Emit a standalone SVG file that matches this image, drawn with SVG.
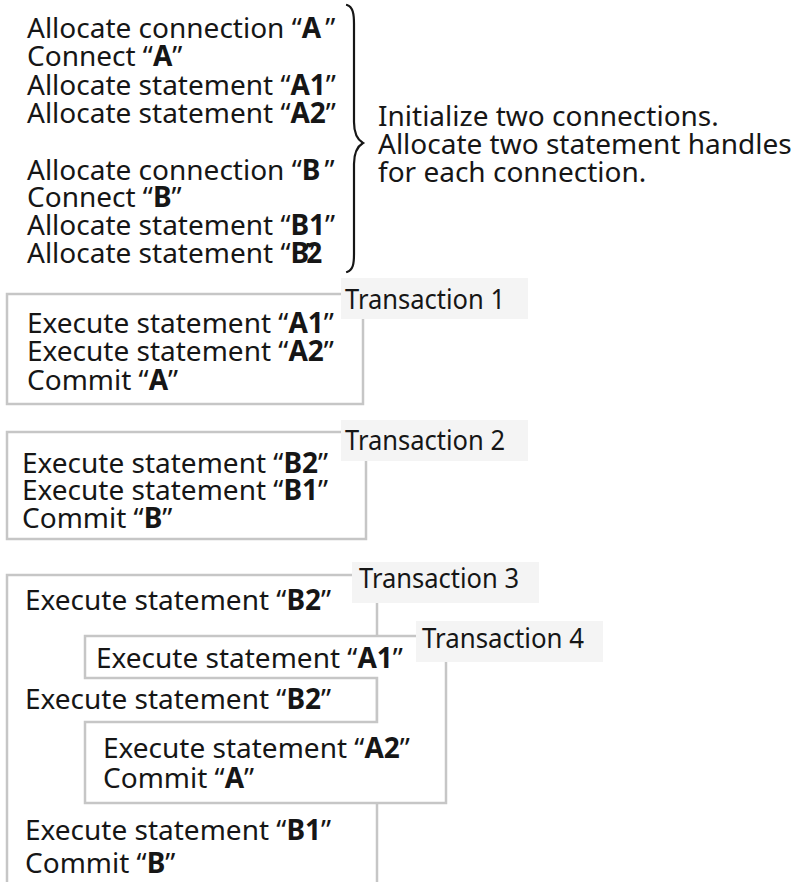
<svg xmlns="http://www.w3.org/2000/svg" width="795" height="882" viewBox="0 0 795 882">
<style>
.t{font-family:"Noto Sans","Liberation Sans",sans-serif;font-size:28px;fill:#161616}
.b{font-weight:bold}
.box{fill:#ffffff;stroke:#c6c6c6;stroke-width:2.5}
.lbg{fill:#f4f4f4}
.lbl{font-family:"Noto Sans","Liberation Sans",sans-serif;font-size:28px;fill:#161616}
.brace{fill:none;stroke:#161616;stroke-width:2.2;stroke-linecap:round}
</style>
<rect width="795" height="882" fill="#ffffff"/>
<g id="setup">
<text class="t" x="27" y="38">Allocate connection “<tspan class="b">A</tspan><tspan dx="4">”</tspan></text>
<text class="t" x="27" y="66">Connect “<tspan class="b">A</tspan>”</text>
<text class="t" x="27" y="95">Allocate statement “<tspan class="b">A1</tspan>”</text>
<text class="t" x="27" y="123">Allocate statement “<tspan class="b">A2</tspan>”</text>
<text class="t" x="27" y="180">Allocate connection “<tspan class="b">B</tspan><tspan dx="4">”</tspan></text>
<text class="t" x="27" y="207">Connect “<tspan class="b">B</tspan>”</text>
<text class="t" x="27" y="235">Allocate statement “<tspan class="b">B1</tspan>”</text>
<text class="t" x="27" y="263">Allocate statement “<tspan class="b">B</tspan><tspan dx="-4">”</tspan><tspan class="b" dx="-9">2</tspan></text>
</g>
<g id="note">
<text class="t" x="378" y="126">Initialize two connections.</text>
<text class="t" x="378" y="154">Allocate two statement handles</text>
<text class="t" x="378" y="182">for each connection.</text>
</g>
<g id="connectors">
<path class="brace" d="M347,5 C353,7 354,14 354,24 L354,122 C354,134 358,140 363,143 C358,146 354,152 354,164 L354,254 C354,264 353,270 347,272"/>
</g>
<g id="tx1">
<rect class="box" x="7" y="294" width="356" height="110"/>
<rect class="lbg" x="341" y="278" width="187" height="41"/>
<text class="lbl" x="345" y="309" textLength="160" lengthAdjust="spacingAndGlyphs">Transaction 1</text>
<text class="t" x="27" y="333">Execute statement “<tspan class="b">A1</tspan>”</text>
<text class="t" x="27" y="361">Execute statement “<tspan class="b">A2</tspan>”</text>
<text class="t" x="27" y="390">Commit “<tspan class="b">A</tspan>”</text>
</g>
<g id="tx2">
<rect class="box" x="7" y="432" width="359" height="107"/>
<rect class="lbg" x="341" y="420" width="187" height="41"/>
<text class="lbl" x="345" y="450" textLength="160" lengthAdjust="spacingAndGlyphs">Transaction 2</text>
<text class="t" x="22" y="473">Execute statement “<tspan class="b">B2</tspan>”</text>
<text class="t" x="22" y="500">Execute statement “<tspan class="b">B1</tspan>”</text>
<text class="t" x="22" y="528">Commit “<tspan class="b">B</tspan>”</text>
</g>
<g id="tx3">
<rect class="box" x="7" y="575" width="370" height="340"/>
</g>
<g id="tx4">
<path class="box" d="M85,636 L446,636 L446,803 L85,803 L85,722 L377,722 L377,678 L85,678 Z"/>
</g>
<g id="tx3-content">
<rect class="lbg" x="352" y="562" width="187" height="41"/>
<text class="lbl" x="359" y="588" textLength="160" lengthAdjust="spacingAndGlyphs">Transaction 3</text>
<text class="t" x="25" y="610">Execute statement “<tspan class="b">B2</tspan>”</text>
<text class="t" x="25" y="709">Execute statement “<tspan class="b">B2</tspan>”</text>
<text class="t" x="25" y="840">Execute statement “<tspan class="b">B1</tspan>”</text>
<text class="t" x="25" y="873">Commit “<tspan class="b">B</tspan>”</text>
</g>
<g id="tx4-content">
<rect class="lbg" x="416" y="621" width="187" height="41"/>
<text class="lbl" x="422" y="648" textLength="162" lengthAdjust="spacingAndGlyphs">Transaction 4</text>
<text class="t" x="96" y="668">Execute statement “<tspan class="b">A1</tspan>”</text>
<text class="t" x="103" y="758">Execute statement “<tspan class="b">A2</tspan>”</text>
<text class="t" x="103" y="788">Commit “<tspan class="b">A</tspan>”</text>
</g>
</svg>
